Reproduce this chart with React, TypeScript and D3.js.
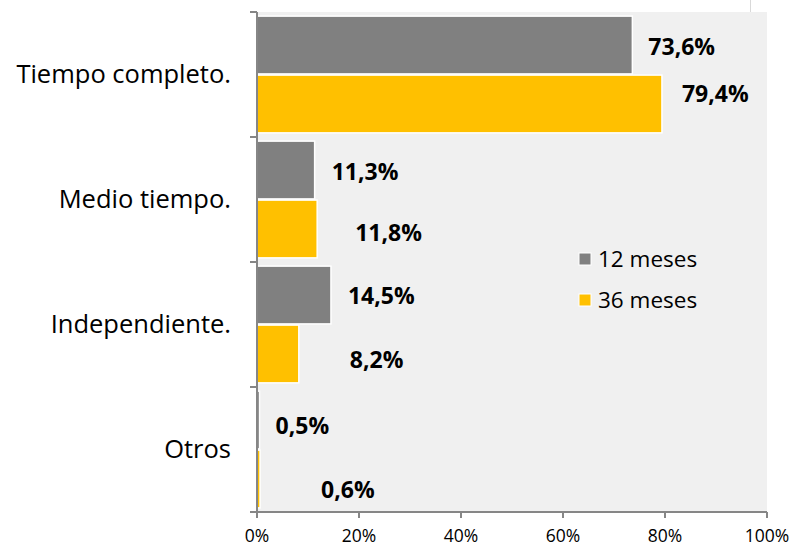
import React from "react";
import * as d3 from "d3";

const categories = ["Tiempo completo.", "Medio tiempo.", "Independiente.", "Otros"];
const seriesNames = ["12 meses", "36 meses"];
const values12 = [73.6, 11.3, 14.5, 0.5];
const values36 = [79.4, 11.8, 8.2, 0.6];
const labels12 = ["73,6%", "11,3%", "14,5%", "0,5%"];
const labels36 = ["79,4%", "11,8%", "8,2%", "0,6%"];
const xTicks = [0, 20, 40, 60, 80, 100];
// manual label nudges (px) as in the original chart
const labelDx12 = [16, 17, 17, 16];
const labelDy12 = [1.5, 2, 1, 6];
const labelDx36 = [20, 38, 51, 61];
const labelDy36 = [-10, 4, 6, 11];

const colors = ["#808080", "#FFC000"];
const W = 792, H = 549;
const left = 257, right = 767, top = 12, bottom = 512;
const FONT = "'Open Sans', 'Liberation Sans', sans-serif";

export default function App() {
  const x = d3.scaleLinear().domain([0, 100]).range([left, right]);
  const y = d3.scaleBand<string>().domain(categories).range([top, bottom]).padding(0);
  const sub = d3.scaleBand<string>().domain(seriesNames).range([0, y.bandwidth()]).paddingInner(0.02).paddingOuter(0.07);
  const seriesVals = [values12, values36];
  const seriesLabels = [labels12, labels36];
  const dxs = [labelDx12, labelDx36];
  const dys = [labelDy12, labelDy36];
  const boundaries = categories.map((c) => y(c)!).concat([bottom]);

  return (
    <svg width={W} height={H} style={{ position: "absolute", left: 0, top: 0, background: "#fff" }}>
      <line x1={750.5} x2={750.5} y1={0} y2={top} stroke="#d9d9d9" strokeWidth={1} />
      <rect x={left} y={top} width={right - left} height={bottom - top} fill="#f0f0f0" />
      {seriesNames.map((s, si) =>
        categories.map((c, ci) => {
          const v = seriesVals[si][ci];
          const by = y(c)! + sub(s)!;
          return (
            <rect key={s + c} x={x(0)} y={by} width={x(v) - x(0)} height={sub.bandwidth()}
              fill={colors[si]} stroke="#ffffff" strokeWidth={1.5} />
          );
        })
      )}
      {seriesNames.map((s, si) =>
        categories.map((c, ci) => {
          const v = seriesVals[si][ci];
          const cy = y(c)! + sub(s)! + sub.bandwidth() / 2;
          return (
            <text key={"l" + s + c} x={x(v) + dxs[si][ci]} y={cy + dys[si][ci]} dy="0.35em"
              fontFamily={FONT} fontWeight="bold" fontSize={23} fill="#000">
              {seriesLabels[si][ci]}
            </text>
          );
        })
      )}
      {/* left axis */}
      <line x1={left} x2={left} y1={top} y2={bottom} stroke="#868686" strokeWidth={2} />
      {boundaries.map((b, i) => (
        <line key={"t" + i} x1={left - 7} x2={left} y1={b} y2={b} stroke="#868686" strokeWidth={2} />
      ))}
      {categories.map((c) => (
        <text key={"c" + c} x={231} y={y(c)! + y.bandwidth() / 2} dy="0.35em" textAnchor="end"
          fontFamily={FONT} fontSize={25.5} fill="#000">
          {c}
        </text>
      ))}
      {/* bottom axis */}
      <line x1={left} x2={right} y1={bottom} y2={bottom} stroke="#868686" strokeWidth={2} />
      {xTicks.map((t) => (
        <g key={"x" + t}>
          <line x1={x(t)} x2={x(t)} y1={bottom} y2={bottom + 6} stroke="#868686" strokeWidth={2} />
          <text x={x(t)} y={536} dy="0.35em" textAnchor="middle" fontFamily={FONT} fontSize={17.5} fill="#000">
            {t + "%"}
          </text>
        </g>
      ))}
      {/* legend */}
      {seriesNames.map((s, i) => (
        <g key={"lg" + s} transform={`translate(579, ${259 + i * 41})`}>
          <rect x={0} y={-6} width={12} height={12} fill={colors[i]} stroke="#ffffff" strokeWidth={1} />
          <text x={19} y={0} dy="0.35em" fontFamily={FONT} fontSize={22.5} fill="#000">{s}</text>
        </g>
      ))}
    </svg>
  );
}
